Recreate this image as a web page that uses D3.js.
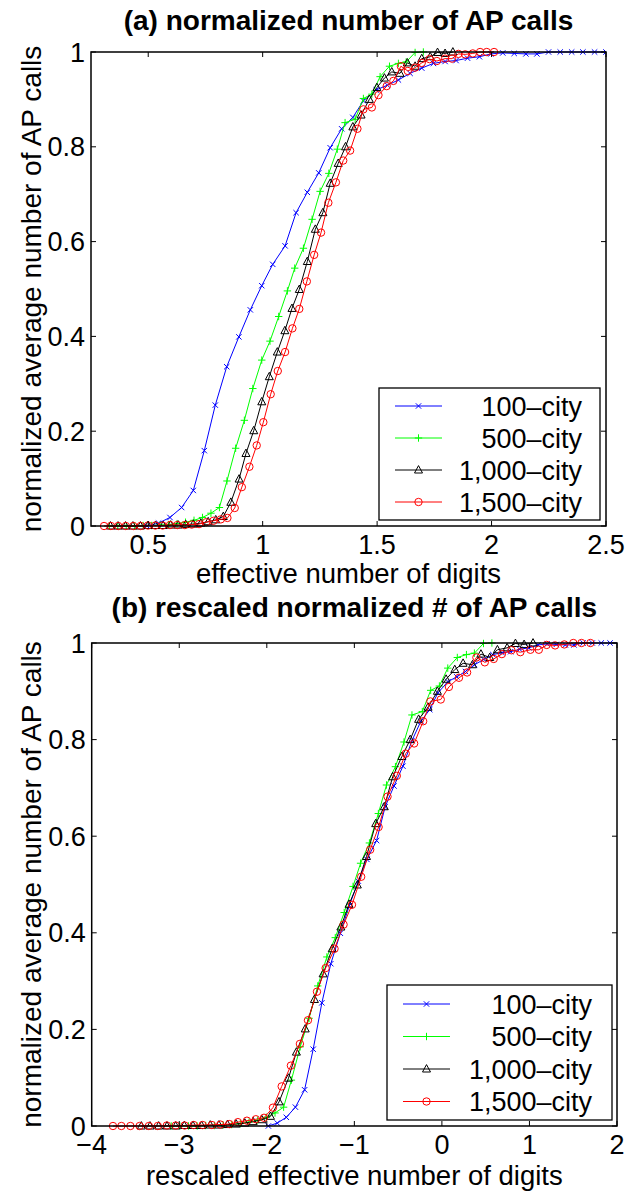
<!DOCTYPE html>
<html><head><meta charset="utf-8">
<script src="https://cdn.jsdelivr.net/npm/d3@7"></script>
<style>body{margin:0;background:#fff} text{font-family:"Liberation Sans",Arial,sans-serif;fill:#000}</style>
</head><body><svg id="c" width="626" height="1197"></svg>
<script>
// ---------- data ----------
const seriesNames = ["100\u2013city", "500\u2013city", "1,000\u2013city", "1,500\u2013city"];
const yTicks = [0, 0.2, 0.4, 0.6, 0.8, 1];
const yTickLabels = ["0", "0.2", "0.4", "0.6", "0.8", "1"];
const xTicksA = [0.5, 1, 1.5, 2, 2.5];
const xTickLabelsA = ["0.5", "1", "1.5", "2", "2.5"];
const xTicksB = [-4, -3, -2, -1, 0, 1, 2];
const xTickLabelsB = ["\u22124", "\u22123", "\u22122", "\u22121", "0", "1", "2"];

// series 100-city
const x100 = [0.495,0.545,0.595,0.646,0.697,0.745,0.793,0.843,0.896,0.946,0.996,1.044,1.098,1.146,1.195,1.245,1.295,1.345,1.394,1.440,1.496,1.545,1.593,1.644,1.695,1.746,1.797,1.845,1.895,1.947,1.997,2.049,2.099,2.150,2.198,2.249,2.300,2.350,2.399,2.450,2.500];
const y100 = [0,0.006,0.018,0.039,0.075,0.159,0.255,0.336,0.399,0.456,0.507,0.552,0.591,0.661,0.704,0.745,0.798,0.838,0.862,0.897,0.920,0.930,0.941,0.955,0.966,0.976,0.980,0.982,0.987,0.990,0.996,0.998,0.997,0.996,0.996,1,1,1,1,1,1];
const xr100 = [-1.982,-1.880,-1.777,-1.673,-1.568,-1.470,-1.371,-1.269,-1.160,-1.058,-0.955,-0.857,-0.746,-0.648,-0.547,-0.445,-0.342,-0.240,-0.139,-0.045,0.070,0.170,0.269,0.373,0.478,0.582,0.687,0.785,0.888,0.994,1.097,1.203,1.306,1.410,1.509,1.613,1.718,1.820,1.921,2.025,2.128];

// series 500-city
const x500 = [0.330,0.367,0.404,0.441,0.478,0.515,0.552,0.589,0.626,0.663,0.700,0.737,0.774,0.811,0.844,0.882,0.920,0.957,0.996,1.032,1.070,1.108,1.140,1.178,1.216,1.251,1.289,1.326,1.360,1.404,1.440,1.477,1.513,1.554,1.593,1.627,1.666,1.702];
const y500 = [0,0,0,0,0.001,0.001,0.002,0.003,0.005,0.008,0.012,0.018,0.027,0.039,0.095,0.164,0.223,0.290,0.350,0.390,0.442,0.496,0.544,0.586,0.647,0.706,0.744,0.795,0.851,0.858,0.902,0.911,0.948,0.970,0.976,0.979,0.999,1.0];
const xr500 = [-3.092,-2.993,-2.894,-2.795,-2.697,-2.598,-2.499,-2.400,-2.302,-2.203,-2.104,-2.005,-1.906,-1.808,-1.719,-1.618,-1.517,-1.418,-1.314,-1.218,-1.116,-1.015,-0.929,-0.828,-0.726,-0.633,-0.531,-0.433,-0.342,-0.224,-0.128,-0.029,0.067,0.176,0.280,0.371,0.475,0.571];

// series 1,000-city
const x1000 = [0.335,0.368,0.401,0.433,0.466,0.499,0.532,0.565,0.598,0.631,0.664,0.697,0.730,0.762,0.795,0.828,0.861,0.897,0.927,0.961,0.996,1.029,1.064,1.097,1.128,1.160,1.195,1.230,1.263,1.295,1.330,1.362,1.394,1.430,1.466,1.499,1.532,1.564,1.600,1.632,1.666,1.695,1.732,1.764,1.797,1.831];
const y1000 = [0,0,0,0,0,0.001,0.001,0.001,0.002,0.002,0.003,0.004,0.006,0.009,0.013,0.020,0.050,0.099,0.153,0.201,0.262,0.315,0.367,0.412,0.459,0.499,0.558,0.626,0.661,0.723,0.765,0.800,0.842,0.867,0.900,0.925,0.945,0.958,0.955,0.977,0.970,0.986,0.990,0.999,0.997,1.0];
const xr1000 = [-3.433,-3.334,-3.235,-3.140,-3.041,-2.942,-2.843,-2.745,-2.646,-2.547,-2.449,-2.350,-2.251,-2.156,-2.057,-1.958,-1.860,-1.752,-1.662,-1.561,-1.456,-1.357,-1.253,-1.154,-1.061,-0.966,-0.861,-0.756,-0.658,-0.562,-0.457,-0.362,-0.266,-0.158,-0.051,0.048,0.147,0.242,0.350,0.446,0.547,0.634,0.745,0.840,0.939,1.041];

// series 1,500-city
const x1500 = [0.307,0.337,0.369,0.402,0.435,0.467,0.499,0.531,0.563,0.595,0.627,0.660,0.690,0.722,0.753,0.785,0.817,0.846,0.878,0.909,0.942,0.974,1.003,1.035,1.066,1.098,1.130,1.160,1.193,1.225,1.255,1.287,1.320,1.352,1.382,1.414,1.440,1.477,1.506,1.542,1.571,1.604,1.634,1.666,1.695,1.729,1.761,1.797,1.827,1.855,1.885,1.918,1.950,1.979,2.011];
const y1500 = [0,0,0,0,0,0,0.001,0.001,0.001,0.002,0.002,0.002,0.003,0.004,0.008,0.011,0.014,0.017,0.038,0.082,0.125,0.170,0.219,0.278,0.327,0.367,0.417,0.458,0.516,0.572,0.619,0.682,0.725,0.771,0.792,0.838,0.879,0.883,0.909,0.928,0.939,0.970,0.960,0.967,0.977,0.985,0.981,0.986,0.986,0.996,0.995,0.997,1.0,1.0,1.0];
const xr1500 = [-3.757,-3.661,-3.558,-3.453,-3.347,-3.245,-3.142,-3.040,-2.938,-2.835,-2.733,-2.627,-2.531,-2.429,-2.330,-2.227,-2.125,-2.032,-1.930,-1.830,-1.725,-1.622,-1.530,-1.427,-1.328,-1.226,-1.123,-1.027,-0.922,-0.819,-0.723,-0.621,-0.515,-0.413,-0.317,-0.214,-0.131,-0.013,0.080,0.195,0.288,0.394,0.490,0.592,0.685,0.794,0.896,1.011,1.107,1.197,1.293,1.398,1.501,1.594,1.696];

// ---------- styles ----------
const colors = ["#0000ff", "#00ff00", "#000000", "#ff0000"];
const markers = ["x", "plus", "tri", "circle"];

const svg = d3.select("#c");

function markerPath(type) {
  if (type === "x") { const s = 2.7; return `M${-s},${-s}L${s},${s}M${-s},${s}L${s},${-s}`; }
  if (type === "plus") { const s = 3.7; return `M${-s},0H${s}M0,${-s}V${s}`; }
  if (type === "tri") { const s = 4; return `M0,${-s*1.1}L${s},${s*0.75}L${-s},${s*0.75}Z`; }
  return null;
}
function drawMarker(g, type, color, cx, cy) {
  if (type === "circle") {
    g.append("circle").attr("cx", cx).attr("cy", cy).attr("r", 3.7)
      .attr("fill", "none").attr("stroke", color).attr("stroke-width", 1);
  } else {
    g.append("path").attr("transform", `translate(${cx},${cy})`).attr("d", markerPath(type))
      .attr("fill", "none").attr("stroke", color).attr("stroke-width", 1);
  }
}

function panel(cfg, id) {
  const x = d3.scaleLinear().domain(cfg.xDomain).range([cfg.left, cfg.right]);
  const y = d3.scaleLinear().domain([0, 1]).range([cfg.bottom, cfg.top]);
  const g = svg.append("g");
  g.append("clipPath").attr("id", "clip" + id).append("rect")
    .attr("x", cfg.left).attr("y", cfg.top - 8).attr("width", cfg.right - cfg.left).attr("height", cfg.bottom - cfg.top + 16);

  // series
  const line = d3.line().x(d => x(d[0])).y(d => y(d[1]));
  cfg.series.forEach((s, i) => {
    const pts = s.x.map((v, k) => [v, s.y[k]]);
    const sg = g.append("g").attr("clip-path", `url(#clip${id})`);
    sg.append("path").attr("d", line(pts)).attr("fill", "none").attr("stroke", colors[i]).attr("stroke-width", 1);
    pts.forEach(p => {
      if (p[0] >= cfg.xDomain[0] - 1e-9 && p[0] <= cfg.xDomain[1] + 1e-9)
        drawMarker(sg, markers[i], colors[i], x(p[0]), y(p[1]));
    });
  });

  // axes box and ticks
  const tl = 5;
  const ag = g.append("g").attr("stroke", "#000").attr("stroke-width", 1);
  cfg.xTicks.forEach(t => {
    ag.append("line").attr("x1", x(t)).attr("x2", x(t)).attr("y1", cfg.bottom).attr("y2", cfg.bottom - tl);
    ag.append("line").attr("x1", x(t)).attr("x2", x(t)).attr("y1", cfg.top).attr("y2", cfg.top + tl);
  });
  yTicks.forEach(t => {
    ag.append("line").attr("x1", cfg.left).attr("x2", cfg.left + tl).attr("y1", y(t)).attr("y2", y(t));
    ag.append("line").attr("x1", cfg.right).attr("x2", cfg.right - tl).attr("y1", y(t)).attr("y2", y(t));
  });
  g.append("rect").attr("x", cfg.left).attr("y", cfg.top).attr("width", cfg.right - cfg.left)
    .attr("height", cfg.bottom - cfg.top).attr("fill", "none").attr("stroke", "#000").attr("stroke-width", 1.5);

  // tick labels
  cfg.xTicks.forEach((t, i) => {
    g.append("text").attr("x", x(t)).attr("y", cfg.bottom + 28).attr("text-anchor", "middle")
      .style("font-size", "27px").text(cfg.xTickLabels[i]);
  });
  yTicks.forEach((t, i) => {
    g.append("text").attr("x", cfg.left - 6).attr("y", y(t) + 9.5).attr("text-anchor", "end")
      .style("font-size", "27px").text(yTickLabels[i]);
  });

  // labels
  g.append("text").attr("x", (cfg.left + cfg.right) / 2).attr("y", cfg.titleY).attr("text-anchor", "middle")
    .style("font-size", "28px").style("font-weight", "bold").text(cfg.title);
  g.append("text").attr("x", (cfg.left + cfg.right) / 2).attr("y", cfg.xLabelY).attr("text-anchor", "middle")
    .style("font-size", "27.5px").text(cfg.xLabel);
  g.append("text").attr("transform", `translate(41,${(cfg.top + cfg.bottom) / 2}) rotate(-90)`)
    .attr("text-anchor", "middle").style("font-size", "28px").text("normalized average number of AP calls");

  // legend
  const L = cfg.legend;
  const lg = g.append("g");
  lg.append("rect").attr("x", L.x0).attr("y", L.y0).attr("width", L.x1 - L.x0).attr("height", L.y1 - L.y0)
    .attr("fill", "#fff").attr("stroke", "#000").attr("stroke-width", 1.3);
  seriesNames.forEach((n, i) => {
    const ry = L.rowY[i];
    lg.append("line").attr("x1", L.lx0).attr("x2", L.lx1).attr("y1", ry).attr("y2", ry)
      .attr("stroke", colors[i]).attr("stroke-width", 1);
    drawMarker(lg, markers[i], colors[i], (L.lx0 + L.lx1) / 2, ry);
    lg.append("text").attr("x", L.tx).attr("y", ry + 9.5).attr("text-anchor", "end")
      .style("font-size", "27px").text(n);
  });
}

panel({
  left: 91, right: 606, top: 52, bottom: 526, xDomain: [0.25, 2.5],
  xTicks: xTicksA, xTickLabels: xTickLabelsA,
  title: "(a) normalized number of AP calls", titleY: 30,
  xLabel: "effective number of digits", xLabelY: 583,
  series: [{x: x100, y: y100}, {x: x500, y: y500}, {x: x1000, y: y1000}, {x: x1500, y: y1500}],
  legend: {x0: 379, x1: 600, y0: 388, y1: 520, rowY: [406, 438, 470, 502], lx0: 395, lx1: 442, tx: 582}
}, "a");

panel({
  left: 91.7, right: 617, top: 643, bottom: 1126, xDomain: [-4, 2],
  xTicks: xTicksB, xTickLabels: xTickLabelsB,
  title: "(b) rescaled normalized # of AP calls", titleY: 617,
  xLabel: "rescaled effective number of digits", xLabelY: 1185,
  series: [{x: xr100, y: y100}, {x: xr500, y: y500}, {x: xr1000, y: y1000}, {x: xr1500, y: y1500}],
  legend: {x0: 387, x1: 612, y0: 985, y1: 1120, rowY: [1004, 1036.5, 1069, 1101.5], lx0: 403, lx1: 450, tx: 592}
}, "b");
</script></body></html>
